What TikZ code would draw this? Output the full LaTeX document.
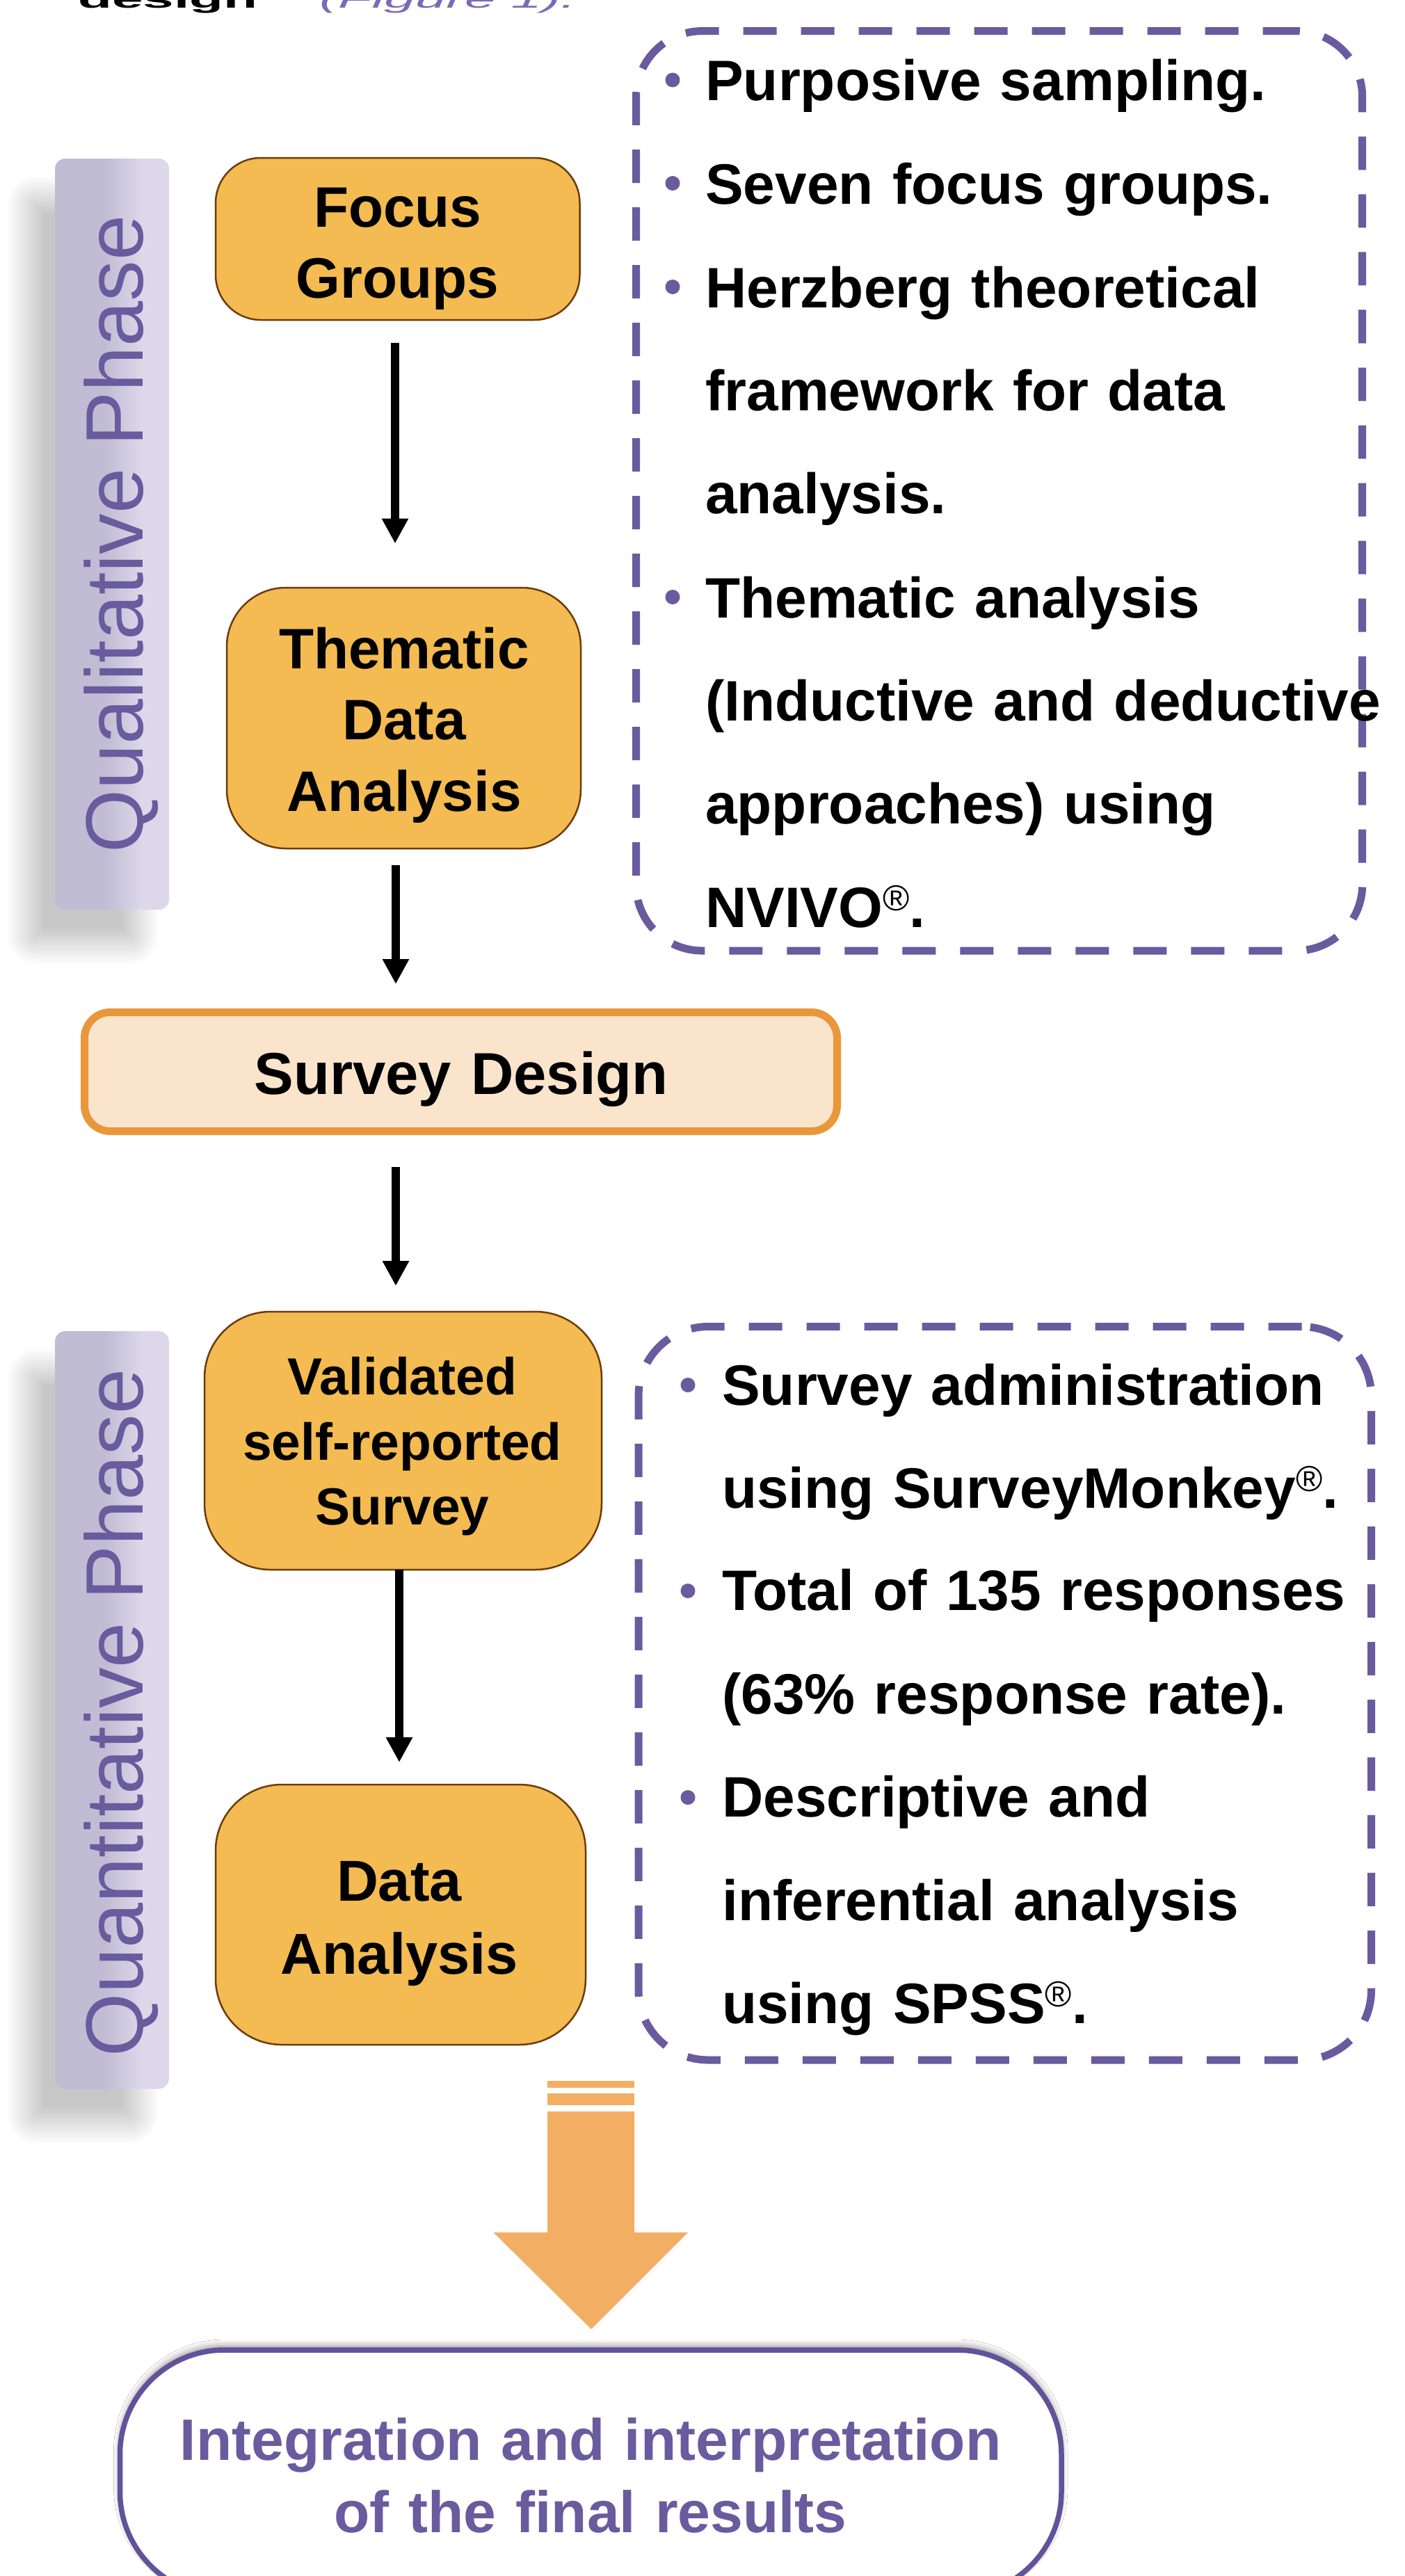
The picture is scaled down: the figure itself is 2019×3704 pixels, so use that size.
\documentclass[tikz,border=0pt]{standalone}
\usepackage{fontspec}
\setmainfont{Liberation Sans}
\usepackage{graphicx}
\usetikzlibrary{arrows.meta,shadows.blur}
\definecolor{boxfill}{HTML}{F3BB51}
\definecolor{boxdraw}{HTML}{6E3B0B}
\definecolor{sdfill}{HTML}{FAE4CB}
\definecolor{sddraw}{HTML}{E9973A}
\definecolor{lav}{HTML}{6A5A9E}
\definecolor{lavdark}{HTML}{62529A}
\definecolor{figlav}{HTML}{7B6AB5}
\definecolor{bard}{HTML}{C0BCD3}
\definecolor{barl}{HTML}{DCD8EA}
\definecolor{orangearrow}{HTML}{F2AF63}
\pgfdeclarehorizontalshading{barshade}{100bp}{color(0bp)=(bard); color(25bp)=(bard); color(47bp)=(bard); color(63bp)=(barl); color(75bp)=(barl); color(100bp)=(barl)}
\newcommand{\myreg}{\raisebox{24pt}{\fontsize{52}{52}\selectfont\mdseries ®}}
\newcommand{\softshadow}[4]{%
  \foreach \i in {0,...,13}{%
    \pgfmathsetmacro{\dd}{26-4*\i}%
    \pgfmathsetmacro{\rr}{max(15+\dd,3)}%
    \pgfmathsetmacro{\xa}{#1-\dd}\pgfmathsetmacro{\ya}{#2-\dd}%
    \pgfmathsetmacro{\xb}{#3+\dd}\pgfmathsetmacro{\yb}{#4+\dd}%
    \fill[black, opacity=0.017, rounded corners=\rr pt] (\xa,\ya) rectangle (\xb,\yb);
  }}
\begin{document}
\begin{tikzpicture}[x=1pt,y=-1pt,
  stepbox/.style={draw=boxdraw, line width=2.5pt, fill=boxfill, inner sep=0pt, outer sep=0pt},
  boxtext/.style={align=center, text width=1400pt, inner sep=0pt, anchor=base},
  arr/.style={line width=12pt, -{Triangle[width=36pt,length=36pt]}},
  dashbox/.style={draw=lav, line width=11pt, dash pattern=on 48pt off 35pt, inner sep=0pt, outer sep=0pt},
  listtext/.style={align=left, text width=1100pt, inner sep=0pt, anchor=base west, font=\fontsize{82}{148.4}\selectfont\bfseries},
  phasebar/.style={shade, shading=barshade, rounded corners=15pt, inner sep=0pt, outer sep=0pt},
  phasetext/.style={rotate=90, anchor=base, text=lav, inner sep=0pt, font=\fontsize{117}{140}\selectfont},
  bulletdot/.style={fill=lav}
]
\useasboundingbox (0,0) rectangle (2019,3704);
\fill[white] (0,0) rectangle (2019,3704);

% cut-off line of text at the top
\node[anchor=base west, inner sep=0pt, font=\fontsize{80}{96}\selectfont\bfseries] (topa) at (112,12) {\scalebox{1}[0.45]{design}};
\node[anchor=base west, inner sep=0pt, text=figlav, font=\fontsize{80}{96}\selectfont\itshape] (topb) at (459,12) {\scalebox{1}[0.45]{(Figure 1).}};

% soft shadows of the phase bars
\softshadow{37}{280}{201}{1360}
\softshadow{37}{1966}{201}{3055.5}

% phase bars
\node[phasebar, minimum width=164pt, minimum height=1080pt] (qbar) at (161,768) {};
\node[phasebar, minimum width=164pt, minimum height=1089.5pt] (nbar) at (161,2458.75) {};
\node[phasetext] (qtxt) at (205.5,768) {Qualitative Phase};
\node[phasetext] (ntxt) at (205.5,2463) {Quantitative Phase};

% dashed boxes
\node[dashbox, rounded corners=95pt, minimum width=1044.2pt, minimum height=1322.4pt] (db1) at (1436.6,705.8) {};
\node[dashbox, rounded corners=100pt, minimum width=1053.5pt, minimum height=1054.5pt] (db2) at (1444.75,2434.75) {};

% flow boxes
\node[stepbox, rounded corners=65pt, minimum width=523.5pt, minimum height=233pt] (fg) at (571.75,343.5) {};
\node[stepbox, rounded corners=85pt, minimum width=509pt, minimum height=375pt] (tda) at (580.5,1032.5) {};
\node[draw=sddraw, line width=11pt, fill=sdfill, rounded corners=37pt, inner sep=0pt, outer sep=0pt, minimum width=1082pt, minimum height=171pt] (sd) at (662.5,1541) {};
\node[stepbox, rounded corners=95pt, minimum width=571pt, minimum height=371pt] (vs) at (579.5,2071.5) {};
\node[stepbox, rounded corners=95pt, minimum width=532pt, minimum height=374pt] (da) at (576,2753) {};
\node[draw=lavdark, line width=7.5pt, fill=white, rounded corners=150pt, inner sep=0pt, outer sep=0pt,
      minimum width=1353.5pt, minimum height=354pt,
      blur shadow={shadow xshift=0pt, shadow yshift=6pt, shadow blur radius=9pt, shadow opacity=45}] (fin) at (849.25,3556) {};

% box texts
\node[boxtext, font=\fontsize{82}{102}\selectfont\bfseries] (fgt) at (571.75,326) {Focus\\Groups};
\node[boxtext, font=\fontsize{82}{102.5}\selectfont\bfseries] (tdat) at (581,961) {Thematic\\Data\\Analysis};
\node[boxtext, font=\fontsize{85}{100}\selectfont\bfseries] (sdt) at (663,1573) {Survey Design};
\node[boxtext, font=\fontsize{75}{93.6}\selectfont\bfseries] (vst) at (578.5,2005.5) {Validated\\self-reported\\Survey};
\node[boxtext, font=\fontsize{83}{105.5}\selectfont\bfseries] (dat) at (574,2733) {Data\\Analysis};
\node[boxtext, text=lav, font=\fontsize{84}{103.5}\selectfont\bfseries] (fint) at (849,3537.5) {Integration and interpretation\\of the final results};

% arrows
\draw[arr, shorten <=33pt, shorten >=63.5pt] ([xshift=-3.75pt]fg.south) -- ([xshift=-3.75pt]fg.south |- tda.north);
\draw[arr, shorten <=24pt, shorten >=40.5pt] ([xshift=-11.5pt]tda.south) -- ([xshift=-11.5pt]tda.south |- sd.north);
\draw[arr, shorten <=51.5pt, shorten >=37pt] ([xshift=-10.5pt]vs.north |- sd.south) -- ([xshift=-10.5pt]vs.north);
\draw[arr, shorten >=32pt] ([xshift=-5.5pt]vs.south) -- ([xshift=-5.5pt]vs.south |- da.north);

% big orange arrow
\fill[orangearrow] (787,2992) rectangle (912,3002);
\fill[orangearrow] (787,3010) rectangle (912,3027);
\fill[orangearrow] (787,3036) -- (912,3036) -- (912,3210) -- (989,3210) -- (850,3349) -- (709.5,3210) -- (787,3210) -- cycle;

% bullet lists
\fill[bulletdot] (967,115) circle (10.5);
\fill[bulletdot] (967,263.5) circle (10.5);
\fill[bulletdot] (967,412.5) circle (10.5);
\fill[bulletdot] (967,858.5) circle (10.5);
\node[listtext] (l1) at (1014,144.6) {Purposive sampling.};
\node[listtext] (l2) at (1014,293) {Seven focus groups.};
\node[listtext] (l3) at (1014,442) {Herzberg theoretical\\framework for data\\analysis.};
\node[listtext] (l4) at (1014,888) {Thematic analysis\\(Inductive and deductive\\approaches) using\\NVIVO\myreg.};

\fill[bulletdot] (989,1991.5) circle (10.5);
\fill[bulletdot] (989,2287.5) circle (10.5);
\fill[bulletdot] (989,2584.5) circle (10.5);
\node[listtext] (m1) at (1038,2020) {Survey administration\\using SurveyMonkey\myreg.};
\node[listtext] (m2) at (1038,2315.7) {Total of 135 responses\\(63\% response rate).};
\node[listtext] (m3) at (1038,2612.8) {Descriptive and\\inferential analysis\\using SPSS\myreg.};
\end{tikzpicture}
\end{document}
